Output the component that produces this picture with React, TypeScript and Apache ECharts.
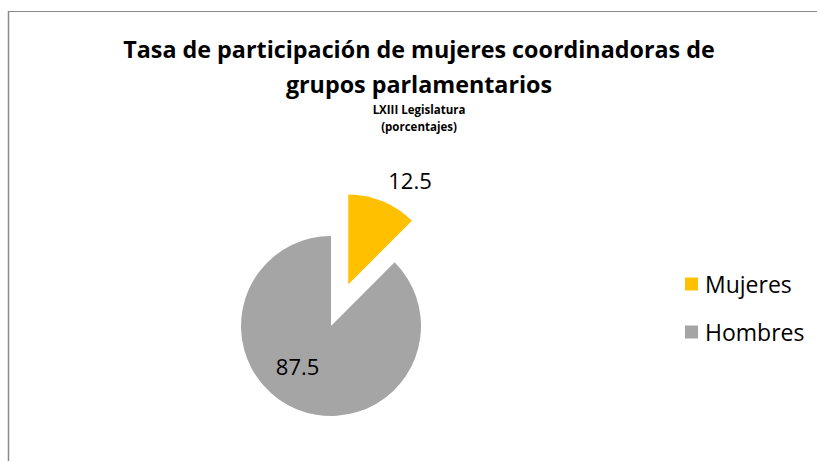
import React, { useEffect, useRef } from "react";
import * as echarts from "echarts";

const categories = ["Mujeres", "Hombres"];
const values = [12.5, 87.5];
const colors = ["#FFC000", "#A5A5A5"];
const titleLines = ["Tasa de participación de mujeres coordinadoras de", "grupos parlamentarios"];
const subtitleLines = ["LXIII Legislatura", "(porcentajes)"];

const FONT = "'Open Sans', 'Noto Sans', sans-serif";

export default function App() {
  const ref = useRef<HTMLDivElement>(null);
  useEffect(() => {
    document.body.style.margin = "0";
    const chart = echarts.init(ref.current!, null, { renderer: "svg" });
    const labelOffsets = [[30, -59], [-15, -4]];
    chart.setOption({
      animation: false,
      backgroundColor: "#ffffff",
      title: {
        text: titleLines.join("\n"),
        subtext: subtitleLines.join("\n"),
        left: 414,
        top: 26,
        textAlign: "center",
        itemGap: 0,
        textStyle: { fontFamily: FONT, fontSize: 23.3, fontWeight: "bold", color: "#000", lineHeight: 35 },
        subtextStyle: { fontFamily: FONT, fontSize: 11.5, fontWeight: "bold", color: "#000", lineHeight: 17 },
      },
      legend: {
        orient: "vertical",
        left: 685,
        top: 271,
        padding: 0,
        itemWidth: 13,
        itemHeight: 13,
        itemGap: 22,
        icon: "rect",
        data: categories,
        textStyle: { fontFamily: FONT, fontSize: 23, color: "#000", lineHeight: 26, padding: [0, 0, 0, 2] },
      },
      graphic: [
        { type: "line", shape: { x1: 8, y1: 11.5, x2: 817, y2: 11.5 }, style: { stroke: "#8a8a8a", lineWidth: 1 } },
        { type: "line", shape: { x1: 8.5, y1: 11, x2: 8.5, y2: 461 }, style: { stroke: "#8a8a8a", lineWidth: 1.5 } },
      ],
      series: [
        {
          type: "pie",
          center: [331, 326],
          radius: 90,
          startAngle: 90,
          clockwise: true,
          selectedMode: "multiple",
          selectedOffset: 45,
          emphasis: { disabled: true },
          labelLine: { show: false },
          data: categories.map((name, i) => {
            const label = {
              show: true,
              position: "inside",
              offset: labelOffsets[i],
              formatter: String(values[i]),
              fontFamily: FONT,
              fontSize: 22,
              color: "#000",
            };
            return {
              name,
              value: values[i],
              selected: i === 0,
              itemStyle: { color: colors[i] },
              label,
              select: { label, itemStyle: { color: colors[i] } },
            };
          }),
        },
      ],
    });
    return () => chart.dispose();
  }, []);
  return <div ref={ref} style={{ width: 817, height: 461 }} />;
}
